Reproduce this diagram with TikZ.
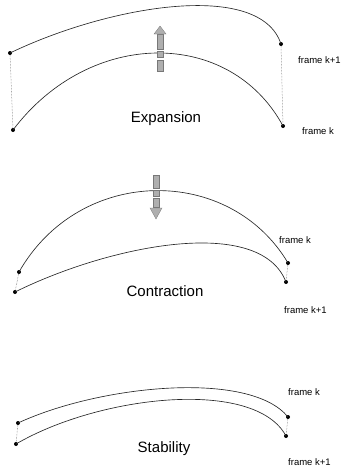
\documentclass[tikz,border=0pt]{standalone}
\usepackage{fontspec}
\setmainfont{Liberation Sans}
\usetikzlibrary{positioning}
\definecolor{curvegray}{RGB}{40,40,40}
\definecolor{hatchgray}{RGB}{175,175,175}
\definecolor{hatchedge}{RGB}{120,120,120}
\tikzset{
  framecurve/.style={
    draw=curvegray, line width=0.65pt
  },
  enddot/.style={
    fill=black, circle, inner sep=0pt, minimum size=4pt
  },
  linkline/.style={
    draw=black!60, densely dotted, line width=0.5pt
  },
  framelabel/.style={
    font=\fontsize{9.5}{11}\selectfont, anchor=base west, inner sep=0pt
  },
  paneltitle/.style={
    font=\fontsize{15}{17}\selectfont, anchor=base, inner sep=0pt
  },
  hatchblock/.style={
    fill=hatchgray, draw=hatchedge, line width=0.3pt
  },
}

\begin{document}
\begin{tikzpicture}[x=1pt, y=-1pt]

  \useasboundingbox (0,0) rectangle (347,471);

  %% Expansion
  \node[enddot] (e1l) at (10,53) {};
  \node[enddot] (e1r) at (281,44) {};
  \node[enddot] (e0l) at (13,130) {};
  \node[enddot] (e0r) at (283,126) {};

  \draw[framecurve] (e1l.center) .. controls (110,5) and (260,-20) .. (e1r.center);
  \draw[framecurve] (e0l.center) .. controls (90,28) and (230,28) .. (e0r.center);
  \draw[linkline] (e1l) -- (e0l);
  \draw[linkline] (e1r) -- (e0r);

  % up arrow
  \filldraw[hatchblock] (157,34) rectangle (163,49);
  \filldraw[hatchblock] (157,51) rectangle (163,57);
  \filldraw[hatchblock] (157,60) rectangle (163,71);
  \filldraw[hatchblock] (154,34) -- (160,26) -- (166,34) -- cycle;

  \node[paneltitle] (exp) at (166,122) {Expansion};
  \node[framelabel] (e1lab) at (298,63) {frame k+1};
  \node[framelabel] (e0lab) at (302,134) {frame k};

  %% Contraction
  \node[enddot] (c0l) at (19,272) {};
  \node[enddot] (c0r) at (288,263) {};
  \node[enddot] (c1l) at (15,292) {};
  \node[enddot] (c1r) at (286,282) {};

  \draw[framecurve] (c0l.center) .. controls (80,165) and (230,165) .. (c0r.center);
  \draw[framecurve] (c1l.center) .. controls (110,245) and (260,215) .. (c1r.center);
  \draw[linkline] (c0l) -- (c1l);
  \draw[linkline] (c0r) -- (c1r);

  % down arrow
  \filldraw[hatchblock] (153,175) rectangle (159,188);
  \filldraw[hatchblock] (153,190) rectangle (159,196);
  \filldraw[hatchblock] (153,198) rectangle (159,207);
  \filldraw[hatchblock] (150,208) -- (156,219) -- (162,208) -- cycle;

  \node[paneltitle] (con) at (165,296) {Contraction};
  \node[framelabel] (c0lab) at (279,243) {frame k};
  \node[framelabel] (c1lab) at (284,313) {frame k+1};

  %% Stability
  \node[enddot] (s0l) at (18,423) {};
  \node[enddot] (s0r) at (288,417) {};
  \node[enddot] (s1l) at (16,444) {};
  \node[enddot] (s1r) at (286,436) {};

  \draw[framecurve] (s0l.center) .. controls (100,385) and (250,370) .. (s0r.center);
  \draw[framecurve] (s1l.center) .. controls (100,395) and (255,378) .. (s1r.center);
  \draw[linkline] (s0l) -- (s1l);
  \draw[linkline] (s0r) -- (s1r);

  \node[paneltitle] (sta) at (164,452) {Stability};
  \node[framelabel] (s0lab) at (288,395) {frame k};
  \node[framelabel] (s1lab) at (288,465) {frame k+1};

\end{tikzpicture}
\end{document}
